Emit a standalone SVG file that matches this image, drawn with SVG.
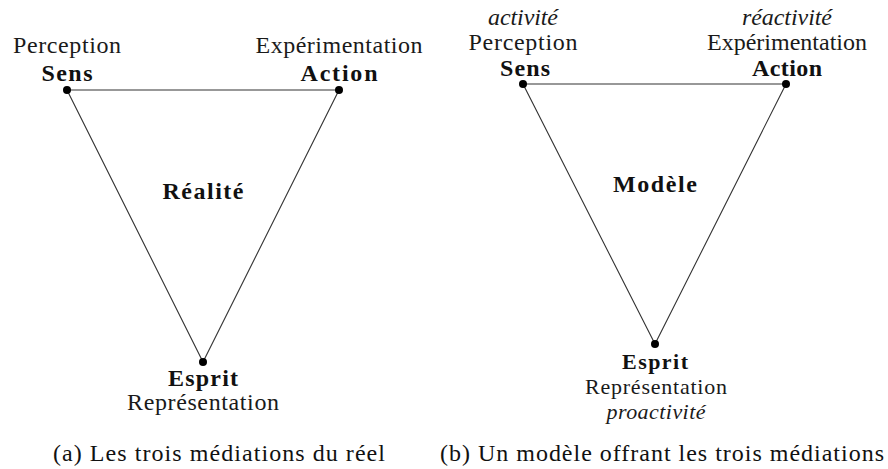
<svg xmlns="http://www.w3.org/2000/svg" width="888" height="469" viewBox="0 0 888 469">
<style>
.lbl{font-family:"Liberation Serif",serif;font-size:24px;fill:#1a1a1a}
.b{font-weight:bold;fill:#111}
.i{font-style:italic}
.sm{font-size:22px}
.cap{font-family:"Liberation Serif",serif;font-size:24px;fill:#111}
.edge{stroke:#333;stroke-width:1.1;fill:none}
.dot{fill:#000}
</style>
<rect width="888" height="469" fill="#fff"/>
<g id="connectors">
<polygon class="edge" points="67,90 339,90 203,362"/>
<polygon class="edge" points="523,84 786,84 655,344"/>
</g>
<g id="a-sens">
<circle class="dot" cx="67" cy="90" r="4"/>
<text class="lbl" font-family="Liberation Serif" x="13" y="53" textLength="108">Perception</text>
<text class="lbl b" font-family="Liberation Serif" x="41.5" y="81" textLength="51">Sens</text>
</g>
<g id="a-action">
<circle class="dot" cx="339" cy="90" r="4"/>
<text class="lbl" font-family="Liberation Serif" x="255.5" y="53" textLength="167">Expérimentation</text>
<text class="lbl b" font-family="Liberation Serif" x="300.5" y="81" textLength="77">Action</text>
</g>
<g id="a-esprit">
<circle class="dot" cx="203" cy="362" r="4"/>
<text class="lbl b" font-family="Liberation Serif" x="168" y="386" textLength="70">Esprit</text>
<text class="lbl" font-family="Liberation Serif" x="127" y="410" textLength="152">Représentation</text>
</g>
<g id="a-realite">
<text class="lbl b" font-family="Liberation Serif" x="162.5" y="199" textLength="81">Réalité</text>
</g>
<g id="b-sens">
<circle class="dot" cx="523" cy="84" r="4"/>
<text class="lbl i" font-family="Liberation Serif" x="488" y="25" textLength="70">activité</text>
<text class="lbl" font-family="Liberation Serif" x="468.5" y="50" textLength="109">Perception</text>
<text class="lbl b" font-family="Liberation Serif" x="500" y="76" textLength="50">Sens</text>
</g>
<g id="b-action">
<circle class="dot" cx="786" cy="84" r="4"/>
<text class="lbl i" font-family="Liberation Serif" x="742" y="25" textLength="90">réactivité</text>
<text class="lbl" font-family="Liberation Serif" x="707" y="50" textLength="160">Expérimentation</text>
<text class="lbl b" font-family="Liberation Serif" x="752" y="76" textLength="70">Action</text>
</g>
<g id="b-esprit">
<circle class="dot" cx="655" cy="344" r="4"/>
<text class="lbl b sm" font-family="Liberation Serif" x="622" y="369" textLength="66">Esprit</text>
<text class="lbl sm" font-family="Liberation Serif" x="585" y="394" textLength="142">Représentation</text>
<text class="lbl i sm" font-family="Liberation Serif" x="606.5" y="419" textLength="99">proactivité</text>
</g>
<g id="b-modele">
<text class="lbl b" font-family="Liberation Serif" x="613" y="192" textLength="84">Modèle</text>
</g>
<g id="captions">
<text class="cap" font-family="Liberation Serif" x="53" y="461" textLength="332">(a) Les trois médiations du réel</text>
<text class="cap" font-family="Liberation Serif" x="440" y="461" textLength="444">(b) Un modèle offrant les trois médiations</text>
</g>
</svg>
